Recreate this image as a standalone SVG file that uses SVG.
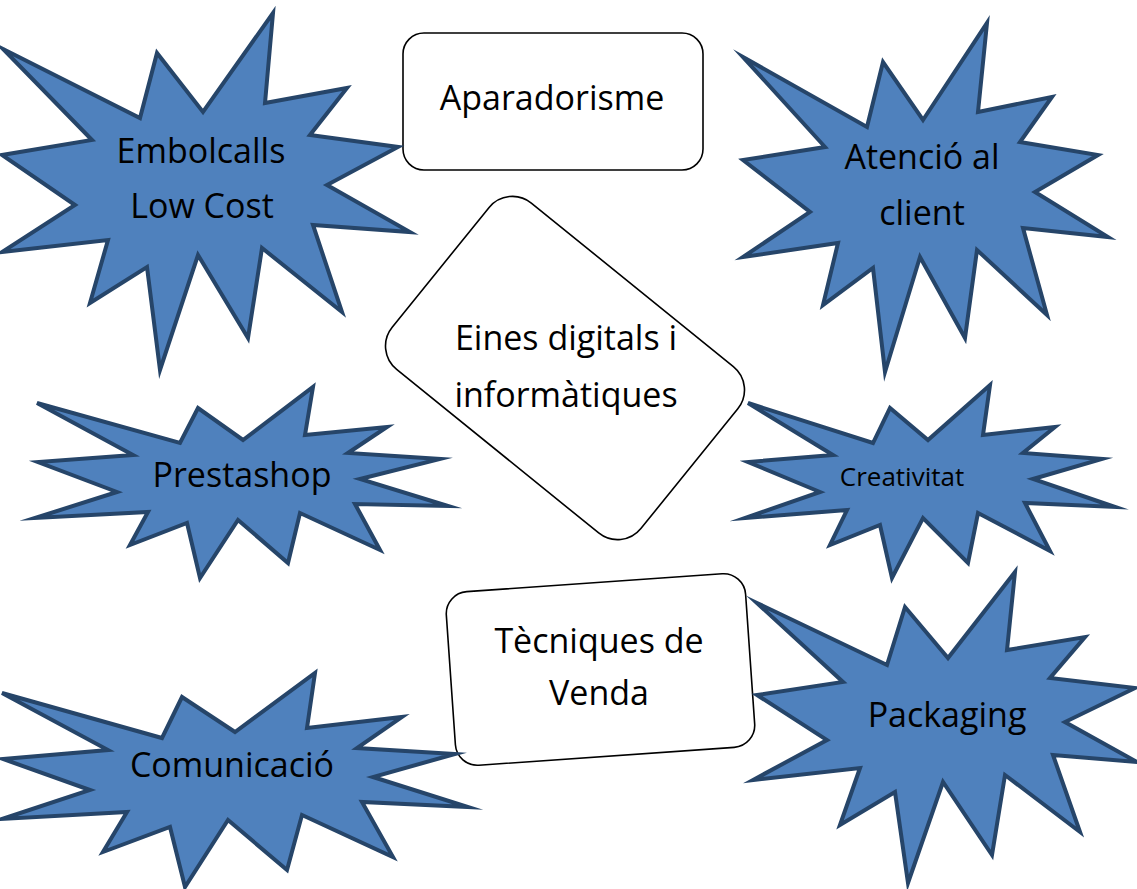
<svg xmlns="http://www.w3.org/2000/svg" width="1137" height="889" viewBox="0 0 1137 889">
<style>
.box{fill:#ffffff;stroke:#000000;stroke-width:1.6}
.star{fill:#4F81BD;stroke:#264569;stroke-width:4;stroke-linejoin:miter;stroke-miterlimit:8}
.t{font-family:"Open Sans","Noto Sans","Liberation Sans",sans-serif;font-size:34px;fill:#000000;text-anchor:middle}
.s{font-size:26px}
</style>
<rect width="1137" height="889" fill="#ffffff"/>
<g id="aparadorisme">
<rect class="box" x="403" y="33" width="300" height="137" rx="21"/>
<text class="t" x="552" y="110">Aparadorisme</text>
</g>
<g id="eines">
<rect class="box" x="-160" y="-107" width="320" height="214" rx="30" transform="translate(565,368) rotate(39)"/>
<text class="t" x="566" y="350">Eines digitals i</text>
<text class="t" x="566" y="407">informàtiques</text>
</g>
<g id="tecniques">
<rect class="box" x="-150" y="-87" width="300" height="174" rx="22" transform="translate(600.5,669.5) rotate(-4)"/>
<text class="t" x="599" y="653">Tècniques de</text>
<text class="t" x="599" y="705">Venda</text>
</g>
<g id="embolcalls">
<polygon class="star" points="3,49 140,118 157,53 203,112 273,13 265,103 347,88 310,135 398,147 327,185 410,232 313,225 342,312 262,248 248,338 198,255 160,370 147,267 90,303 108,240 2,252 75,205 2,155 92,140"/>
<text class="t" x="201" y="163">Embolcalls</text>
<text class="t" x="202" y="218">Low Cost</text>
</g>
<g id="atencio">
<polygon class="star" points="743,57 867,127 883,62 923,120 987,23 978,112 1052,97 1020,142 1098,155 1035,192 1108,237 1023,228 1047,315 977,250 965,338 920,257 885,372 873,268 823,305 838,243 743,257 810,212 743,160 825,147"/>
<text class="t" x="922" y="169">Atenció al</text>
<text class="t" x="922" y="225">client</text>
</g>
<g id="prestashop">
<polygon class="star" points="37,403 180,443 198,408 243,440 313,387 305,435 387,427 348,453 440,459 360,479 448,506 355,504 380,550 300,513 288,563 238,520 200,578 187,523 130,545 148,512 35,518 117,492 38,462 133,455"/>
<text class="t" x="242" y="487">Prestashop</text>
</g>
<g id="creativitat">
<polygon class="star" points="748,403 873,443 890,408 928,440 990,385 983,435 1055,427 1023,453 1102,459 1033,479 1115,507 1025,503 1050,551 978,513 968,563 923,518 892,578 880,525 830,545 847,510 745,518 820,492 748,462 833,455"/>
<text class="t s" x="902" y="486">Creativitat</text>
</g>
<g id="comunicacio">
<polygon class="star" points="2,693 162,738 182,697 235,732 315,673 307,728 402,717 357,748 455,754 373,777 468,807 362,802 393,857 302,815 287,870 228,820 185,887 170,827 103,852 127,812 2,819 90,790 3,759 108,750"/>
<text class="t" x="232" y="777">Comunicació</text>
</g>
<g id="packaging">
<polygon class="star" points="757,603 887,665 905,607 948,658 1015,572 1007,650 1085,637 1050,678 1135,688 1065,722 1137,762 1053,755 1080,832 1005,775 992,855 943,782 908,883 895,792 840,825 860,768 753,780 827,740 757,695 843,682"/>
<text class="t" x="947" y="727">Packaging</text>
</g>
<g id="connectors"/>
</svg>
